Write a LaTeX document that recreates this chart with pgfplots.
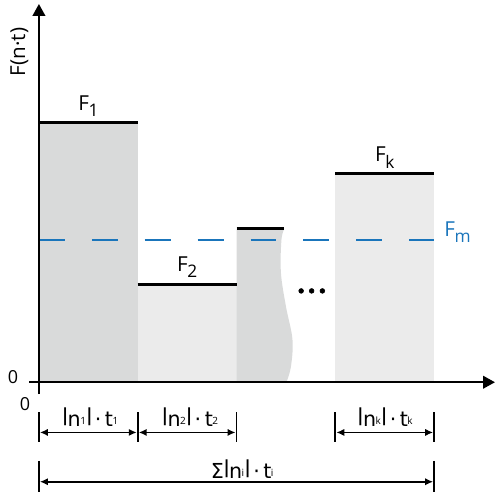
\documentclass[border=0pt]{standalone}
\usepackage{fontspec}
\setmainfont{Open Sans}
\newfontfamily\labfont{DejaVu Sans}
\usepackage{graphicx}
\usepackage{pgfplots}
\pgfplotsset{compat=1.18}
\usetikzlibrary{arrows.meta}
\definecolor{dgray}{HTML}{D9DADA}
\definecolor{lgray}{HTML}{EBEBEB}
\definecolor{fblue}{HTML}{1A75BB}
% small subscript of the bottom labels
\newcommand\sub[1]{\kern-0.4pt\raisebox{1.3pt}{\normalfont\fontsize{7.5}{8}\selectfont #1}}
% absolute value bar sitting on the baseline
\newcommand\vb{\kern-0.08em\raisebox{0.205em}{\scalebox{1.1}[0.87]{|}}\kern-0.08em}
% F labels with large, lowered index
\newcommand\Fi[1]{F\kern-0.3pt\raisebox{-5pt}{\fontsize{13}{14}\selectfont #1}}
\newcommand\lab[2]{\vb\kern0.3pt n\sub{#1}\kern0.9pt\vb\kern2.6pt·\kern2.6pt t\sub{#2}}
\begin{document}
\begin{tikzpicture}
\begin{axis}[
  x=74.25pt, y=0.75pt,
  xmin=-0.1, xmax=4.616, ymin=-12, ymax=379,
  axis lines=middle,
  axis line style={line width=1.5pt, -{Triangle[length=9pt,width=9.5pt]}},
  xtick=\empty, ytick=\empty,
  clip=false,
  axis on top,
  font=\fontsize{15.5}{18}\selectfont,
]
% bars
\addplot[fill=dgray, draw=none] coordinates {(0,0)(0,260)(1,260)(1,0)};
\addplot[fill=lgray, draw=none] coordinates {(1,0)(1,98)(2,98)(2,0)};
\addplot[fill=dgray, draw=none, smooth, tension=0.6] coordinates {(2.485,154)(2.455,143)(2.449,110)(2.5,76)(2.566,43)(2.551,16)(2.505,0)} -- (axis cs:2,0) -- (axis cs:2,154) -- cycle;
\addplot[fill=lgray, draw=none] coordinates {(3,0)(3,209)(4,209)(4,0)};
% top levels
\addplot[black, line width=2pt] coordinates {(0,260)(1,260)};
\addplot[black, line width=2pt] coordinates {(1,98)(2,98)};
\addplot[black, line width=2pt] coordinates {(2,154)(2.485,154)};
\addplot[black, line width=2pt] coordinates {(3,209)(4,209)};
% mean
\addplot[fblue, line width=2.1pt, dash pattern=on 19.5pt off 20.25pt] coordinates {(0,142.5)(4,142.5)};
% dots
\addplot[only marks, mark=*, mark size=1.8pt, black] coordinates {(2.654,91.5)(2.76,91.5)(2.869,91.5)};
% labels
\node[anchor=base, inner sep=0pt] at (axis cs:0.5,272.6) {\Fi{1}};
\node[anchor=base, inner sep=0pt] at (axis cs:1.5,111.3) {\Fi{2}};
\node[anchor=base, inner sep=0pt] at (axis cs:3.5,221.3) {\Fi{k}};
\node[anchor=base west, inner sep=0pt, text=fblue] at (axis cs:4.1,146.3) {\Fi{m}};
\node[rotate=90, inner sep=0pt] at (axis cs:-0.197,331) {F(n·t)};
\node[font=\fontsize{13.5}{15}\selectfont] at (axis cs:-0.263,5.5) {0};
\node[font=\fontsize{13.5}{15}\selectfont] at (axis cs:-0.141,-22) {0};
% dimension lines
\draw[line width=1.4pt] (axis cs:0,-30) -- (axis cs:0,-60);
\draw[line width=1.4pt] (axis cs:1,-30) -- (axis cs:1,-60);
\draw[line width=1.4pt] (axis cs:2,-30) -- (axis cs:2,-60);
\draw[line width=1.4pt] (axis cs:3,-30) -- (axis cs:3,-60);
\draw[line width=1.4pt] (axis cs:4,-30) -- (axis cs:4,-60);
\draw[line width=1.3pt, {Latex[length=6pt,width=5.5pt]}-{Latex[length=6pt,width=5.5pt]}] (axis cs:0.01,-50.3) -- (axis cs:0.99,-50.3);
\draw[line width=1.3pt, {Latex[length=6pt,width=5.5pt]}-{Latex[length=6pt,width=5.5pt]}] (axis cs:1.01,-50.3) -- (axis cs:1.99,-50.3);
\draw[line width=1.3pt, {Latex[length=6pt,width=5.5pt]}-{Latex[length=6pt,width=5.5pt]}] (axis cs:3.01,-50.3) -- (axis cs:3.99,-50.3);
\node[anchor=base, inner sep=0pt, font=\labfont\fontsize{15.5}{18}\selectfont] at (axis cs:0.523,-44) {\lab{1}{1}};
\node[anchor=base, inner sep=0pt, font=\labfont\fontsize{15.5}{18}\selectfont] at (axis cs:1.533,-44) {\lab{2}{2}};
\node[anchor=base, inner sep=0pt, font=\labfont\fontsize{15.5}{18}\selectfont] at (axis cs:3.507,-44) {\lab{k}{k}};
\draw[line width=1.4pt] (axis cs:0,-78.7) -- (axis cs:0,-110.3);
\draw[line width=1.4pt] (axis cs:4,-78.7) -- (axis cs:4,-110.3);
\draw[line width=1.3pt, {Latex[length=6pt,width=5.5pt]}-{Latex[length=6pt,width=5.5pt]}] (axis cs:0.01,-99.7) -- (axis cs:3.99,-99.7);
\node[anchor=base, inner sep=0pt, font=\labfont\fontsize{15.5}{18}\selectfont] at (axis cs:2.056,-96) {Σ\kern0.5pt\lab{i}{i}};
% bounding box
\path (axis cs:-0.394,-111) rectangle (axis cs:4.616,383);
\end{axis}
\end{tikzpicture}
\end{document}
